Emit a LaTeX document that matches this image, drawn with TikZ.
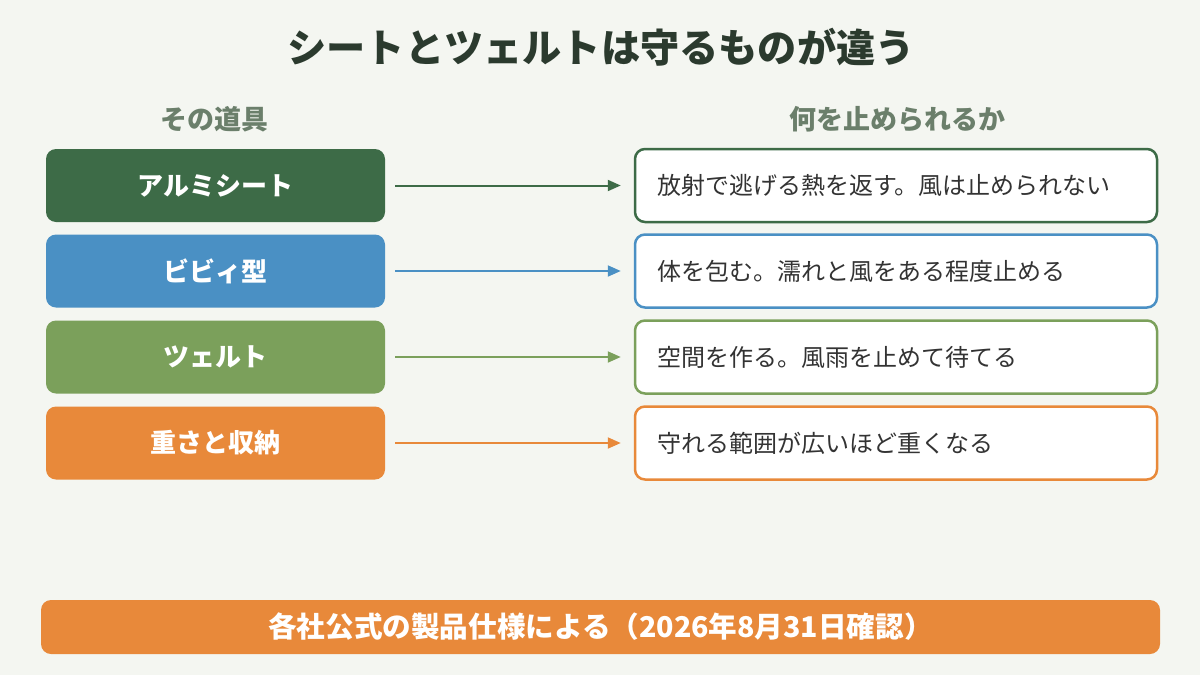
\documentclass[tikz,border=0pt]{standalone}
\usepackage{fontspec}
\setmainfont{Noto Sans CJK JP}
\usetikzlibrary{arrows.meta}
\definecolor{bg}{HTML}{F4F6F1}
\definecolor{titlec}{HTML}{2B3A2E}
\definecolor{headc}{HTML}{6B7F6B}
\definecolor{textc}{HTML}{333333}
\definecolor{cA}{HTML}{3D6B47}
\definecolor{cB}{HTML}{4A90C4}
\definecolor{cC}{HTML}{7BA05B}
\definecolor{cD}{HTML}{E8893A}
\tikzset{
  tool/.style={rounded corners=5pt, fill=#1, minimum width=169.5pt, minimum height=36.5pt, inner sep=0pt,
    text=white, font=\bfseries\fontsize{13}{15}\selectfont},
  effect/.style={rounded corners=5pt, draw=#1, line width=1.25pt, fill=white, minimum height=36.5pt,
    text width=261pt-22pt, inner xsep=11pt, inner ysep=0pt, align=left, text=textc,
    font=\fontsize{12}{14}\selectfont},
  link/.style={draw=#1, line width=1pt, -{Triangle[length=6.5pt,width=5.5pt]}, shorten <=5pt, shorten >=6.5pt},
  head/.style={text=headc, font=\bfseries\fontsize{13.5}{15}\selectfont}
}
\begin{document}
\begin{tikzpicture}[x=0.5pt,y=-0.5pt]
\useasboundingbox[fill=bg] (0,0) rectangle (1200,675);
\node[text=titlec, font=\bfseries\fontsize{19.6}{23}\selectfont] (title) at (601,47) {シートとツェルトは守るものが違う};
\node[head] (h1) at (214,119) {その道具};
\node[head] (h2) at (897,119) {何を止められるか};
\node[tool=cA] (t1) at (215.5,185.5) {アルミシート};
\node[tool=cB] (t2) at (215.5,271) {ビビィ型};
\node[tool=cC] (t3) at (215.5,357) {ツェルト};
\node[tool=cD] (t4) at (215.5,443) {重さと収納};
\node[effect=cA] (e1) at (896,185.5) {放射で逃げる熱を返す。風は止められない};
\node[effect=cB] (e2) at (896,271) {体を包む。濡れと風をある程度止める};
\node[effect=cC] (e3) at (896,357) {空間を作る。風雨を止めて待てる};
\node[effect=cD] (e4) at (896,443) {守れる範囲が広いほど重くなる};
\draw[link=cA] (t1) -- (e1);
\draw[link=cB] (t2) -- (e2);
\draw[link=cC] (t3) -- (e3);
\draw[link=cD] (t4) -- (e4);
\node[rounded corners=5pt, fill=cD, minimum width=559.5pt, minimum height=27pt, inner sep=0pt,
  text=white, font=\bfseries\fontsize{14.3}{16}\selectfont] (note) at (600.5,627) {各社公式の製品仕様による（2026年8月31日確認）};
\end{tikzpicture}
\end{document}
